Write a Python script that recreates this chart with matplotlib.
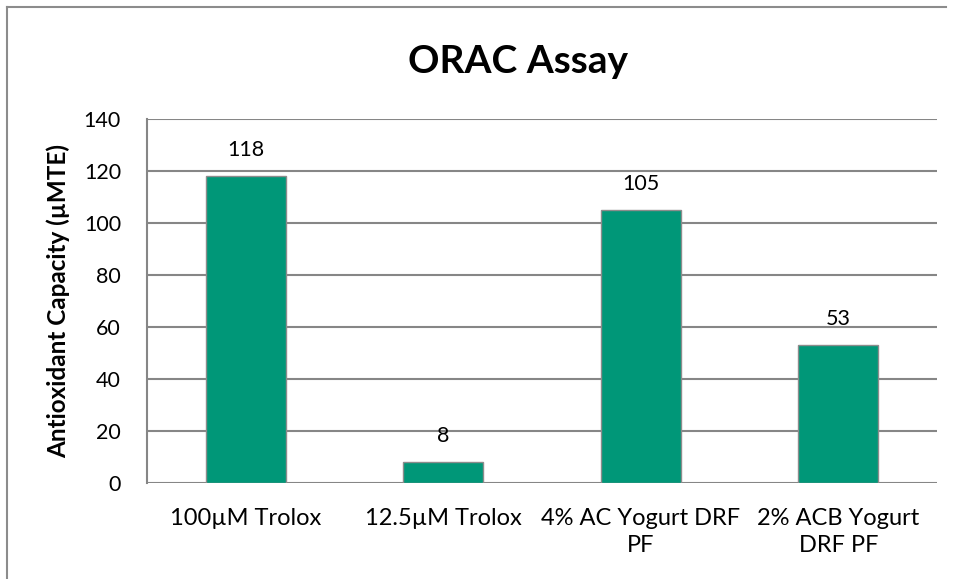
import matplotlib.pyplot as plt
from matplotlib.lines import Line2D

# datos del grafico
categorias = ['100µM Trolox', '12.5µM Trolox', '4% AC Yogurt DRF\nPF', '2% ACB Yogurt\nDRF PF']
valores = [118, 8, 105, 53]
yticks = [0, 20, 40, 60, 80, 100, 120, 140]

plt.rcParams['font.family'] = ['Lato', 'DejaVu Sans']

fig = plt.figure(figsize=(9.54, 5.79), dpi=100)
ax = fig.add_axes([0.1541, 0.1658, 0.8281, 0.6287])

x = range(len(categorias))
bars = ax.bar(x, valores, width=0.405, color='#009778', edgecolor='#8c8c8c', linewidth=1.0, zorder=3)

# etiquetas de valor
for b, v in zip(bars, valores):
    ax.annotate(str(v), (b.get_x() + b.get_width() / 2, v), xytext=(0, 14.4),
                textcoords='offset points', ha='center', va='baseline', fontsize=15.5)

ax.set_xlim(-0.5, len(categorias) - 0.5)
ax.set_ylim(0, 140)
ax.set_yticks(yticks)
ax.set_xticks(list(x))
ax.set_xticklabels(categorias, fontsize=17, linespacing=1.36)
ax.tick_params(axis='both', length=0)
ax.tick_params(axis='y', labelsize=15.5, pad=18.7)
ax.tick_params(axis='x', pad=18)

ax.grid(axis='y', color='#868686', linewidth=1.5, zorder=0)
for s in ['top', 'right', 'bottom']:
    ax.spines[s].set_visible(False)
ax.spines['left'].set_color('#868686')
ax.spines['left'].set_linewidth(1.5)

ax.set_ylabel('Antioxidant Capacity (µMTE)', fontsize=17.5, fontweight='bold')
ax.yaxis.set_label_coords(-0.097, 0.5)
fig.text(0.543, 1 - 73 / 579, 'ORAC Assay', ha='center', va='baseline', fontsize=28, fontweight='bold')

# marco del grafico
fig.add_artist(Line2D([7 / 954, 7 / 954], [0, 1 - 7 / 579], transform=fig.transFigure, color='#8c8c8c', linewidth=1.5))
fig.add_artist(Line2D([7 / 954, 946 / 954], [1 - 7 / 579, 1 - 7 / 579], transform=fig.transFigure, color='#8c8c8c', linewidth=1.5))

fig.savefig('out.png', dpi=100)
